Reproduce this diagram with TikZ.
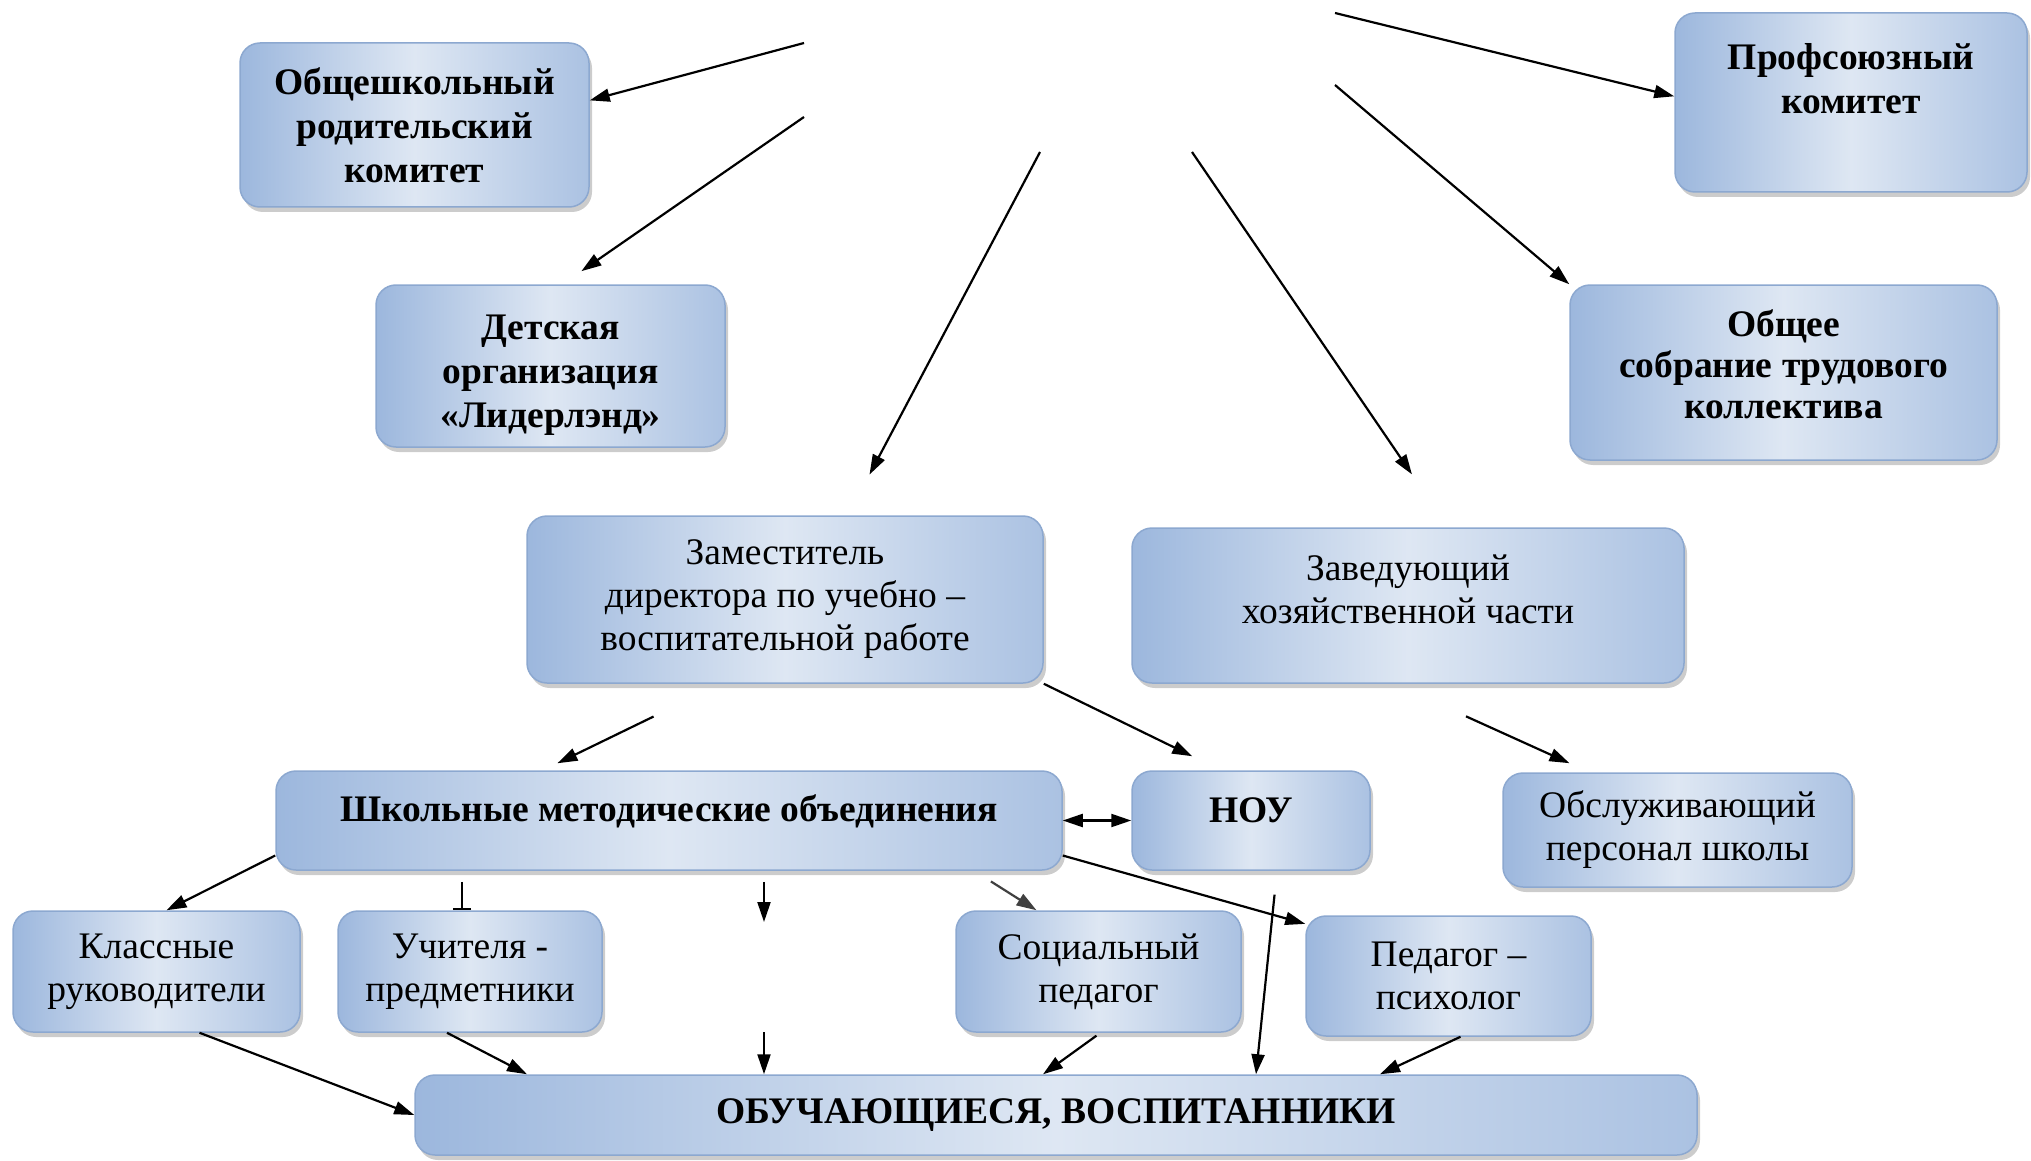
\documentclass[tikz,border=0pt]{standalone}
\usepackage{fontspec}
\setmainfont{Liberation Serif}
\usetikzlibrary{arrows.meta,shadows}

\definecolor{boxedge}{RGB}{156,183,221}
\definecolor{boxmid}{RGB}{222,231,243}
\definecolor{boxline}{RGB}{140,168,208}

\tikzset{
  unit/.style={draw=boxline, line width=1.5pt, rounded corners=20pt,
    left color=boxedge, right color=boxedge!85, middle color=boxmid,
    drop shadow={shadow xshift=3pt, shadow yshift=-5pt, fill=black!40},
    align=center, inner sep=0pt, font=\fontsize{37.5}{43}\selectfont},
  unitb/.style={unit, font=\fontsize{37.5}{44}\selectfont\bfseries},
  link/.style={-{Triangle[length=20pt,width=13pt]}, line width=2.2pt},
}
% extra depth / height to move a label inside its box
\newcommand{\dn}[1]{\rule[-#1]{0pt}{0pt}}
\newcommand{\up}[1]{\rule{0pt}{#1}}

\begin{document}
\begin{tikzpicture}[x=1pt, y=-1pt]
            \useasboundingbox (0,0) rectangle (2031,1161);

            % upper level
            \node[unitb, minimum width=349pt, minimum height=164pt] (com) at (414.5,125) {Общешкольный\\родительский\\комитет};
            \node[unitb, minimum width=352pt, minimum height=179pt] (prof) at (1851,102.5) {Профсоюзный\\комитет\dn{48pt}};
            \node[unitb, minimum width=349pt, minimum height=162pt] (det) at (550.5,366) {\up{42pt}Детская\\организация\\«Лидерлэнд»};
            \node[unitb, minimum width=427pt, minimum height=175pt, font=\fontsize{37.5}{41}\selectfont\bfseries] (sob) at (1783.5,372.5) {Общее\\собрание трудового\\коллектива\dn{17pt}};

            % deputies
            \node[unit, minimum width=516pt, minimum height=167pt] (zam) at (785,599.5) {Заместитель\\директора по учебно –\\воспитательной работе};
            \node[unit, minimum width=552pt, minimum height=155pt] (zav) at (1408,605.5) {Заведующий\\хозяйственной части\dn{33pt}};

            % middle level
            \node[unitb, minimum width=786pt, minimum height=99pt] (shmo) at (669,820.5) {Школьные методические объединения\dn{24pt}};
            \node[unitb, minimum width=238pt, minimum height=99pt] (nou) at (1251,820.5) {НОУ\dn{20pt}};
            \node[unit, minimum width=349pt, minimum height=114pt] (obs) at (1677.5,830) {Обслуживающий\\персонал школы};

            % staff
            \node[unit, minimum width=287pt, minimum height=121pt] (kl) at (156.5,971.5) {Классные\\руководители};
            \node[unit, minimum width=264pt, minimum height=121pt] (uch) at (470,971.5) {Учителя -\\предметники};
            \node[unit, minimum width=285pt, minimum height=121pt] (soc) at (1098.5,971.5) {Социальный\\педагог};
            \node[unit, minimum width=285pt, minimum height=120pt] (psi) at (1448.5,976) {Педагог –\\психолог};

            \node[unitb, minimum width=1282pt, minimum height=80pt] (obu) at (1056,1115) {ОБУЧАЮЩИЕСЯ, ВОСПИТАННИКИ};

            % free ends
            \coordinate (t1) at (804,43);
            \coordinate (t2) at (804,117);
            \coordinate (t3) at (1040,152);
            \coordinate (t4) at (1192,152);
            \coordinate (t5) at (1335,13);
            \coordinate (t6) at (1335,85);
            \coordinate (m1) at (764,922);
            \coordinate (m3) at (764,1032);

            \draw[link] (t1) -- (com.8); % top-com
            \draw[link, shorten >=23pt] (t2) -- ([xshift=12pt]det.north); % top-det
            \draw[link, shorten >=46pt] (t3) -- ([xshift=63pt]zam.north); % top-zam
            \draw[link, shorten >=64pt] (t4) -- ([xshift=40pt]zav.north); % top-zav
            \draw[link] (t5) -- (prof.178); % top-prof
            \draw[link] (t6) -- (sob.north west); % top-sob

            \draw[link, shorten <=75pt, shorten >=16pt] ([xshift=-64pt]zam.south) -- ([xshift=-126pt]shmo.north); % zam-shmo
            \draw[link, shorten >=32pt] (zam.south east) -- ([xshift=-30pt]nou.north); % zam-nou
            \draw[link, shorten <=79pt, shorten >=22pt] ([xshift=-14pt]zav.south) -- ([xshift=-88pt]obs.north); % zav-obs
            \draw[{Triangle[length=20pt,width=13pt]}-{Triangle[length=20pt,width=13pt]}, line width=2.2pt] (shmo.east) -- (nou.west); % shmo-nou

            \draw[link] ([yshift=-35pt]shmo.west) -- ([xshift=10pt]kl.north); % shmo-kl
            \draw[-{Bar[width=18pt]}, line width=2.2pt, shorten <=11pt] ([xshift=-207pt]shmo.south) -- ([xshift=-8pt]uch.north); % shmo-uch
            \draw[link, shorten <=11pt] ([xshift=95pt]shmo.south) -- (m1); % shmo-m1
            \draw[link, black!75, shorten <=20pt] ([xshift=305pt]shmo.south) -- ([xshift=-62pt]soc.north); % shmo-soc
            \draw[link] ([yshift=-35pt]shmo.east) -- (psi.160); % shmo-psi
            \draw[link, shorten <=24pt] ([xshift=26pt]nou.south) -- ([xshift=200pt]obu.north); % nou-obu

            \draw[link] ([xshift=43pt]kl.south) -- (obu.west); % kl-obu
            \draw[link] ([xshift=-23pt]uch.south) -- ([xshift=-529pt]obu.north); % uch-obu
            \draw[link] (m3) -- ([xshift=-292pt]obu.north); % m3-obu
            \draw[link, shorten <=5pt] ([xshift=2pt]soc.south) -- ([xshift=-13pt]obu.north); % soc-obu
            \draw[link] ([xshift=12pt]psi.south) -- ([xshift=324pt]obu.north); % psi-obu
        \end{tikzpicture}
\end{document}
